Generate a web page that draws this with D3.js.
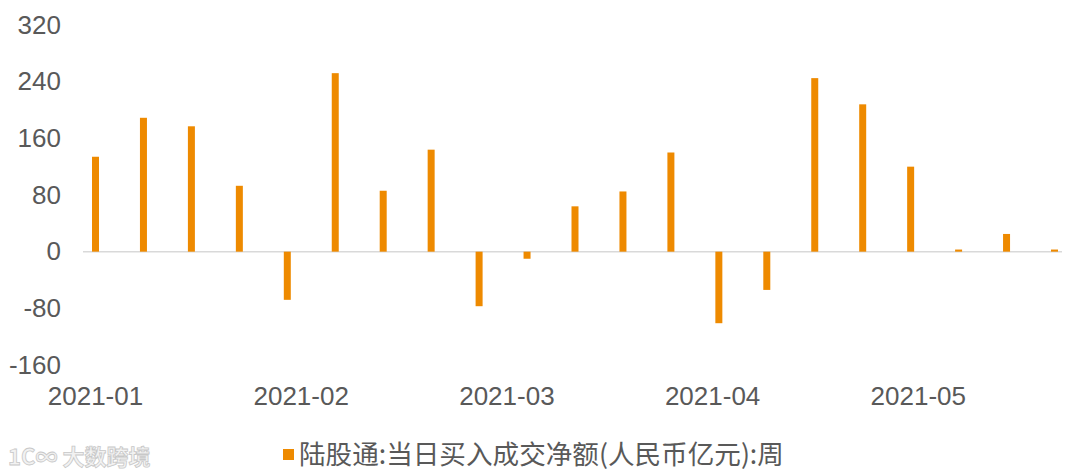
<!DOCTYPE html>
<html>
<head>
<meta charset="utf-8">
<script src="https://cdn.jsdelivr.net/npm/d3@7"></script>
<style>
  body { margin: 0; background: #fff; }
  svg text { font-family: "Liberation Sans", Arial, sans-serif; }
</style>
</head>
<body>
<div id="chart"></div>
<script>
// weekly dates (Fridays) and net buy values
let weeks = ["2021-01-08", "2021-01-15", "2021-01-22", "2021-01-29", "2021-02-05", "2021-02-12",
    "2021-02-19", "2021-02-26", "2021-03-05", "2021-03-12", "2021-03-19", "2021-03-26",
    "2021-04-02", "2021-04-09", "2021-04-16", "2021-04-23", "2021-04-30", "2021-05-07",
    "2021-05-14", "2021-05-21", "2021-05-28"];
let values = [134, 189, 177, 93, -68, 252, 86, 144, -77, -10, 64, 85,
    140, -101, -54, 245, 208, 120, 3, 25, 3];
let yTicks = [-160, -80, 0, 80, 160, 240, 320];
let monthLabels = ["2021-01", "2021-02", "2021-03", "2021-04", "2021-05"];
let monthPos = [0, 4.29, 8.58, 12.87, 17.16];   // position in bar-index units
let seriesName = "陆股通:当日买入成交净额(人民币亿元):周";

let width = 1068, height = 474;
let barColor = "#EE8A00";
let textColor = "#595959";

let svg = d3.select("#chart")
    .append("svg")
    .attr("width", width)
    .attr("height", height);

let xScale = d3.scaleLinear()
    .domain([0, values.length - 1])
    .range([95.5, 1054.5]);
let yScale = d3.scaleLinear()
    .domain([-160, 320])
    .range([365, 25]);

// y axis labels
let yAxis = svg.append("g")
    .attr("transform", "translate(61,0)")
    .call(d3.axisLeft(yScale)
        .tickValues(yTicks)
        .tickSize(0)
        .tickPadding(0)
        .tickFormat(function(d) { return String(d); }));
yAxis.select(".domain").remove();
yAxis.selectAll("text")
    .attr("fill", textColor)
    .style("font-size", "26px");

// zero line
svg.append("line")
    .attr("x1", 83)
    .attr("x2", 1062)
    .attr("y1", yScale(0))
    .attr("y2", yScale(0))
    .attr("stroke", "#d9d9d9")
    .attr("stroke-width", 1.5);

// bars
let barW = 7;
svg.append("g")
    .selectAll("rect")
    .data(values)
    .enter()
    .append("rect")
    .attr("x", function(d, i) { return xScale(i) - barW / 2; })
    .attr("y", function(d) { return yScale(Math.max(0, d)); })
    .attr("width", barW)
    .attr("height", function(d) { return Math.abs(yScale(d) - yScale(0)); })
    .attr("fill", barColor);

// month labels
svg.append("g")
    .selectAll("text")
    .data(monthLabels)
    .enter()
    .append("text")
    .attr("x", function(d, i) { return xScale(monthPos[i]); })
    .attr("y", 405)
    .attr("text-anchor", "middle")
    .attr("fill", textColor)
    .style("font-size", "26px")
    .text(function(d) { return d; });

// legend
svg.append("rect")
    .attr("x", 283)
    .attr("y", 449)
    .attr("width", 11)
    .attr("height", 11)
    .attr("fill", barColor);
svg.append("text")
    .attr("x", 299)
    .attr("y", 464)
    .attr("fill", textColor)
    .style("font-size", "26.6px")
    .style("font-family", "'Noto Sans CJK SC', sans-serif")
    .text(seriesName);

// watermark
svg.append("text")
    .attr("x", 8)
    .attr("y", 465)
    .attr("fill", "#f2f2f2")
    .attr("stroke", "#c8c8c8")
    .attr("stroke-width", 0.8)
    .style("font-size", "22px")
    .style("font-weight", "bold")
    .style("font-family", "'Noto Sans CJK SC', sans-serif")
    .text("1C∞ 大数跨境");
</script>
</body>
</html>
